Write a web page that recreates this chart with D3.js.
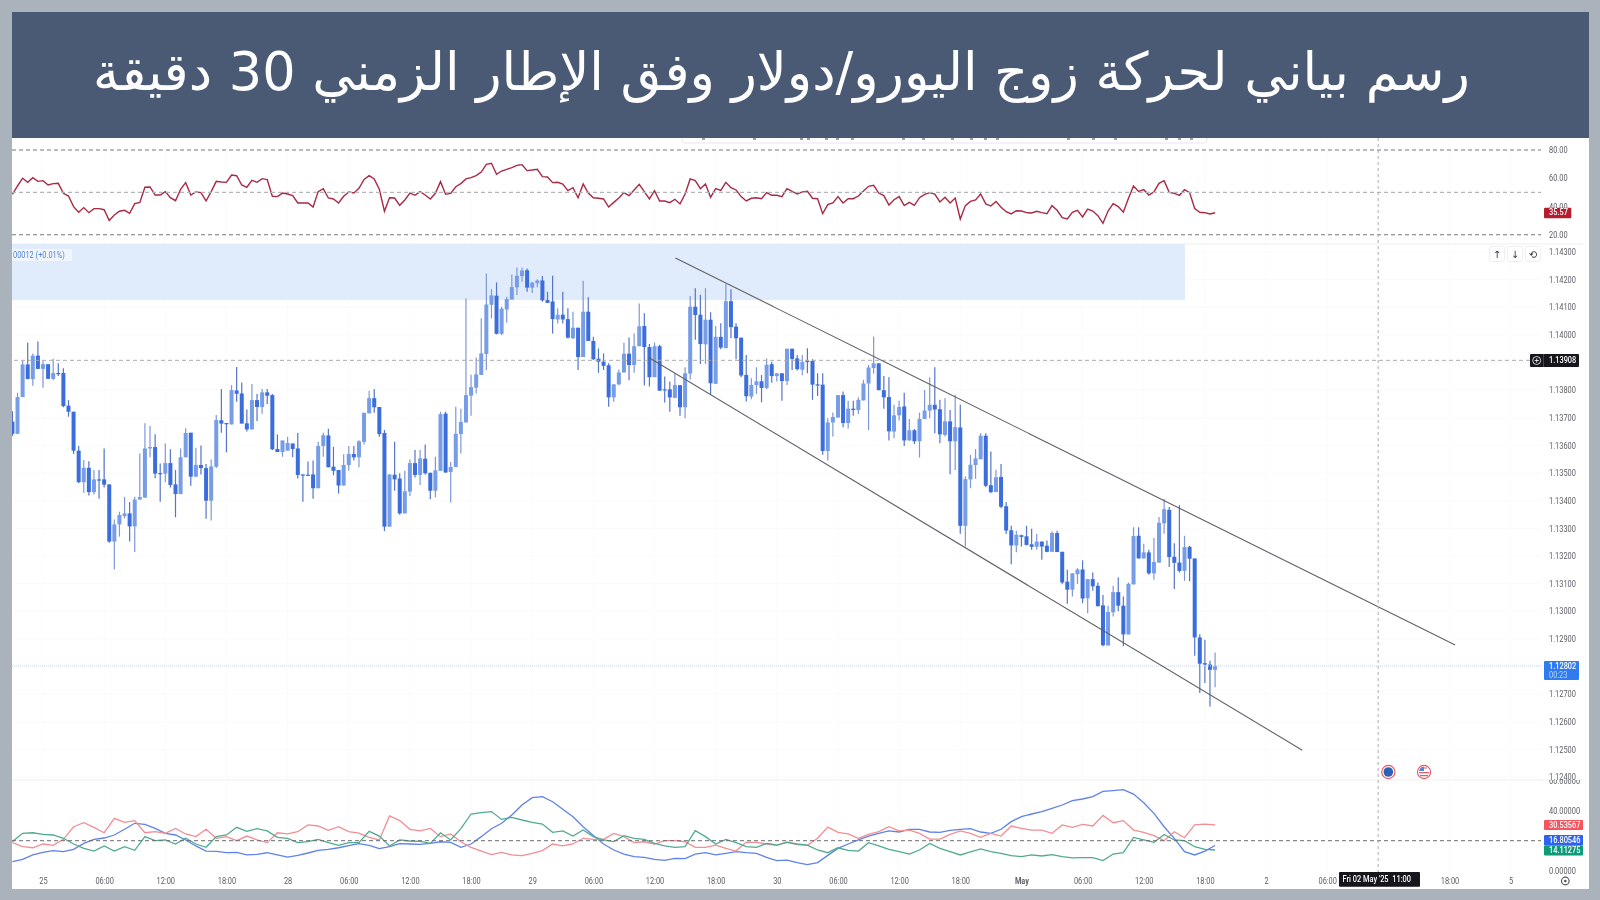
<!DOCTYPE html>
<html lang="ar">
<head>
<meta charset="utf-8">
<script src="https://cdn.jsdelivr.net/npm/d3@7"></script>
<style>
html,body{margin:0;padding:0;background:#aab2bc;overflow:hidden}
svg{display:block}
.tick text{font-family:Roboto,Arial,sans-serif}
</style>
</head>
<body>
<svg id="chart" width="1600" height="900"></svg>
<script>
const titleText = "رسم بياني لحركة زوج اليورو/دولار وفق الإطار الزمني 30 دقيقة";
const firstCandleIndex = -6;
const opens = [1.13686,1.13642,1.13775,1.13893,1.13840,1.13925,1.13877,1.13894,1.13841,1.13862,
1.13862,1.13744,1.13722,1.13581,1.13467,1.13519,1.13431,1.13477,1.13477,1.13459,
1.13252,1.13314,1.13344,1.13354,1.13307,1.13404,1.13411,1.13589,1.13594,1.13500,
1.13498,1.13536,1.13459,1.13424,1.13557,1.13646,1.13487,1.13529,1.13518,1.13400,
1.13523,1.13691,1.13681,1.13676,1.13799,1.13788,1.13680,1.13658,1.13764,1.13739,
1.13792,1.13782,1.13587,1.13576,1.13581,1.13607,1.13589,1.13495,1.13494,1.13495,
1.13445,1.13598,1.13636,1.13523,1.13511,1.13455,1.13529,1.13569,1.13557,1.13613,
1.13716,1.13771,1.13739,1.13645,1.13306,1.13494,1.13480,1.13354,1.13433,1.13536,
1.13493,1.13552,1.13501,1.13436,1.13508,1.13715,1.13504,1.13522,1.13641,1.13683,
1.13780,1.13809,1.13855,1.13931,1.14109,1.14142,1.14004,1.14092,1.14128,1.14172,
1.14213,1.14234,1.14171,1.14187,1.14197,1.14126,1.14121,1.14056,1.14073,1.14057,
1.13988,1.14026,1.13920,1.14084,1.13978,1.13914,1.13903,1.13890,1.13774,1.13821,
1.13864,1.13932,1.13891,1.13959,1.14032,1.13956,1.13847,1.13959,1.13803,1.13803,
1.13772,1.13818,1.13738,1.13860,1.14102,1.14073,1.13966,1.14055,1.13823,1.13993,
1.13952,1.14122,1.14030,1.13990,1.13855,1.13777,1.13818,1.13832,1.13808,1.13894,
1.13851,1.13861,1.13833,1.13950,1.13915,1.13874,1.13906,1.13906,1.13821,1.13820,
1.13580,1.13683,1.13701,1.13782,1.13681,1.13733,1.13728,1.13763,1.13824,1.13880,
1.13897,1.13800,1.13775,1.13650,1.13709,1.13741,1.13618,1.13655,1.13615,1.13696,
1.13726,1.13747,1.13731,1.13638,1.13687,1.13615,1.13665,1.13309,1.13477,1.13529,
1.13550,1.13635,1.13456,1.13431,1.13486,1.13380,1.13293,1.13238,1.13275,1.13271,
1.13242,1.13233,1.13252,1.13237,1.13215,1.13283,1.13215,1.13107,1.13078,1.13134,
1.13151,1.13047,1.13116,1.13092,1.13021,1.12876,1.12996,1.13069,1.13020,1.12916,
1.13097,1.13273,1.13191,1.13213,1.13137,1.13176,1.13318,1.13367,1.13197,1.13176,
1.13146,1.13233,1.13191,1.12905,1.12812,1.12807,1.12788];
const highs = [1.13724,1.13791,1.13906,1.13972,1.13933,1.13976,1.13906,1.13894,1.13914,1.13897,
1.13879,1.13764,1.13722,1.13598,1.13547,1.13543,1.13511,1.13511,1.13589,1.13459,
1.13332,1.13360,1.13414,1.13395,1.13414,1.13571,1.13680,1.13670,1.13640,1.13535,
1.13607,1.13586,1.13511,1.13589,1.13662,1.13646,1.13592,1.13600,1.13533,1.13549,
1.13710,1.13804,1.13681,1.13818,1.13884,1.13828,1.13730,1.13822,1.13786,1.13804,
1.13804,1.13786,1.13640,1.13618,1.13631,1.13607,1.13645,1.13495,1.13542,1.13545,
1.13613,1.13646,1.13660,1.13595,1.13511,1.13568,1.13598,1.13598,1.13619,1.13718,
1.13798,1.13804,1.13739,1.13656,1.13495,1.13613,1.13499,1.13508,1.13549,1.13583,
1.13583,1.13603,1.13501,1.13559,1.13722,1.13722,1.13540,1.13740,1.13733,1.14132,
1.13856,1.13918,1.14060,1.14222,1.14166,1.14190,1.14102,1.14138,1.14219,1.14244,
1.14244,1.14240,1.14192,1.14201,1.14213,1.14156,1.14214,1.14096,1.14156,1.14096,
1.14084,1.14026,1.14196,1.14136,1.13993,1.13951,1.13933,1.13897,1.13821,1.13875,
1.13972,1.13991,1.14005,1.14114,1.14078,1.13967,1.13972,1.13964,1.13849,1.13831,
1.13861,1.13818,1.13883,1.14141,1.14169,1.14145,1.14169,1.14082,1.14032,1.14042,
1.14184,1.14165,1.14042,1.13990,1.13927,1.13843,1.13883,1.13855,1.13915,1.13903,
1.13861,1.13861,1.13950,1.13950,1.13927,1.13927,1.13952,1.13912,1.13861,1.13861,
1.13698,1.13719,1.13782,1.13795,1.13762,1.13762,1.13774,1.13837,1.13891,1.13994,
1.13897,1.13851,1.13847,1.13747,1.13762,1.13791,1.13696,1.13659,1.13719,1.13801,
1.13847,1.13883,1.13765,1.13771,1.13728,1.13783,1.13747,1.13488,1.13566,1.13587,
1.13644,1.13644,1.13578,1.13512,1.13533,1.13395,1.13309,1.13291,1.13277,1.13309,
1.13298,1.13279,1.13252,1.13256,1.13289,1.13291,1.13215,1.13150,1.13137,1.13156,
1.13184,1.13116,1.13140,1.13104,1.13059,1.13020,1.13092,1.13122,1.13053,1.13104,
1.13304,1.13304,1.13244,1.13222,1.13265,1.13341,1.13406,1.13377,1.13246,1.13384,
1.13273,1.13237,1.13191,1.12917,1.12897,1.12821,1.12851];
const lows = [1.13634,1.13642,1.13775,1.13840,1.13816,1.13877,1.13809,1.13841,1.13836,1.13851,
1.13738,1.13704,1.13569,1.13463,1.13429,1.13419,1.13422,1.13407,1.13448,1.13248,
1.13151,1.13270,1.13336,1.13252,1.13214,1.13404,1.13411,1.13557,1.13481,1.13396,
1.13467,1.13448,1.13340,1.13424,1.13557,1.13454,1.13487,1.13495,1.13335,1.13328,
1.13518,1.13646,1.13575,1.13676,1.13758,1.13679,1.13650,1.13658,1.13688,1.13715,
1.13750,1.13583,1.13576,1.13559,1.13581,1.13557,1.13480,1.13396,1.13492,1.13407,
1.13445,1.13559,1.13521,1.13492,1.13426,1.13455,1.13508,1.13545,1.13521,1.13603,
1.13716,1.13718,1.13631,1.13290,1.13306,1.13436,1.13349,1.13354,1.13417,1.13484,
1.13457,1.13495,1.13405,1.13412,1.13508,1.13501,1.13393,1.13522,1.13571,1.13683,
1.13707,1.13788,1.13855,1.13873,1.14060,1.14002,1.13999,1.14044,1.14128,1.14144,
1.14192,1.14156,1.14152,1.14172,1.14120,1.14116,1.14005,1.14041,1.14041,1.13987,
1.13985,1.13873,1.13920,1.13978,1.13909,1.13863,1.13873,1.13740,1.13758,1.13818,
1.13864,1.13836,1.13863,1.13959,1.13817,1.13813,1.13847,1.13798,1.13755,1.13722,
1.13772,1.13707,1.13698,1.13839,1.13982,1.13895,1.13895,1.13786,1.13823,1.13948,
1.13952,1.13988,1.13912,1.13847,1.13759,1.13767,1.13786,1.13756,1.13803,1.13827,
1.13831,1.13762,1.13819,1.13873,1.13871,1.13854,1.13861,1.13765,1.13779,1.13566,
1.13545,1.13632,1.13701,1.13666,1.13661,1.13707,1.13714,1.13763,1.13656,1.13859,
1.13800,1.13733,1.13618,1.13626,1.13690,1.13598,1.13618,1.13605,1.13556,1.13695,
1.13698,1.13644,1.13608,1.13632,1.13496,1.13511,1.13280,1.13234,1.13445,1.13479,
1.13550,1.13449,1.13427,1.13431,1.13373,1.13279,1.13170,1.13213,1.13234,1.13238,
1.13222,1.13222,1.13186,1.13213,1.13215,1.13214,1.13098,1.13027,1.13053,1.13099,
1.13029,1.12993,1.13074,1.13018,1.12873,1.12876,1.12981,1.13000,1.12873,1.12916,
1.13097,1.13191,1.13191,1.13132,1.13114,1.13176,1.13280,1.13160,1.13080,1.13140,
1.13110,1.13108,1.12839,1.12704,1.12740,1.12655,1.12725];
const closes = [1.13642,1.13775,1.13893,1.13840,1.13925,1.13877,1.13894,1.13841,1.13862,1.13858,
1.13742,1.13722,1.13581,1.13467,1.13519,1.13431,1.13477,1.13476,1.13458,1.13252,
1.13314,1.13348,1.13354,1.13307,1.13404,1.13413,1.13589,1.13594,1.13498,1.13498,
1.13536,1.13457,1.13424,1.13557,1.13645,1.13487,1.13529,1.13518,1.13400,1.13524,
1.13692,1.13679,1.13679,1.13800,1.13787,1.13679,1.13658,1.13764,1.13739,1.13792,
1.13780,1.13586,1.13576,1.13618,1.13609,1.13587,1.13493,1.13493,1.13492,1.13445,
1.13598,1.13637,1.13521,1.13508,1.13455,1.13529,1.13569,1.13557,1.13615,1.13718,
1.13771,1.13738,1.13641,1.13306,1.13495,1.13477,1.13354,1.13434,1.13536,1.13493,
1.13553,1.13499,1.13436,1.13510,1.13713,1.13502,1.13522,1.13642,1.13685,1.13782,
1.13811,1.13857,1.13933,1.14110,1.14143,1.14004,1.14095,1.14130,1.14173,1.14214,
1.14233,1.14171,1.14189,1.14197,1.14125,1.14116,1.14057,1.14073,1.14056,1.13990,
1.14026,1.13920,1.14084,1.13978,1.13912,1.13903,1.13888,1.13774,1.13821,1.13864,
1.13932,1.13891,1.13959,1.14031,1.13956,1.13847,1.13959,1.13798,1.13800,1.13774,
1.13818,1.13738,1.13861,1.14102,1.14072,1.13967,1.14055,1.13825,1.13993,1.13954,
1.14122,1.14028,1.13988,1.13853,1.13778,1.13819,1.13832,1.13808,1.13892,1.13851,
1.13861,1.13833,1.13950,1.13913,1.13876,1.13902,1.13902,1.13820,1.13819,1.13580,
1.13683,1.13703,1.13782,1.13681,1.13733,1.13728,1.13765,1.13824,1.13882,1.13897,
1.13800,1.13774,1.13651,1.13709,1.13739,1.13618,1.13655,1.13615,1.13696,1.13726,
1.13747,1.13730,1.13640,1.13687,1.13615,1.13666,1.13309,1.13478,1.13530,1.13553,
1.13635,1.13454,1.13431,1.13485,1.13378,1.13292,1.13238,1.13277,1.13269,1.13240,
1.13233,1.13252,1.13234,1.13215,1.13283,1.13214,1.13104,1.13078,1.13137,1.13151,
1.13046,1.13116,1.13090,1.13018,1.12877,1.12997,1.13069,1.13020,1.12916,1.13099,
1.13272,1.13191,1.13213,1.13137,1.13178,1.13320,1.13369,1.13196,1.13175,1.13146,
1.13232,1.13190,1.12905,1.12810,1.12807,1.12788,1.12802];

const rsiValues = [48.6,54.5,60.0,57.1,60.4,57.8,58.3,55.2,56.2,56.4,
49.3,47.4,39.9,35.9,39.2,35.6,38.5,38.5,37.7,30.0,
34.0,36.6,37.3,35.1,42.0,42.9,53.6,53.8,48.1,48.1,
50.5,46.2,44.1,52.1,56.9,48.1,50.3,49.8,43.9,50.5,
57.8,57.3,57.1,62.3,61.8,55.2,53.6,58.5,57.1,59.7,
59.0,47.2,47.0,49.5,48.8,47.7,42.5,42.5,42.5,39.6,
50.5,52.6,46.0,45.3,42.5,47.2,50.3,49.5,52.9,59.2,
61.8,59.5,52.2,36.6,46.2,46.0,40.8,44.6,49.5,47.9,
50.5,48.1,45.3,49.3,57.6,48.6,49.3,54.0,56.2,59.5,
60.4,61.8,64.4,69.9,70.6,62.8,65.1,66.3,67.5,69.1,
69.6,65.4,65.8,66.3,61.1,60.9,56.9,57.1,55.9,51.2,
53.3,46.2,55.9,49.5,46.2,45.8,45.3,39.6,42.9,46.0,
49.8,47.7,51.7,55.7,50.5,45.3,51.2,43.9,43.9,42.7,
45.1,41.8,48.8,59.5,58.3,52.6,55.9,46.5,52.6,51.4,
57.1,53.3,51.7,47.0,43.9,45.8,46.2,45.5,49.8,47.9,
47.9,47.0,52.6,50.7,48.8,50.3,50.7,45.8,45.5,34.9,
41.3,42.5,47.0,42.5,45.5,45.5,47.4,51.0,54.3,55.0,
49.5,47.7,41.0,44.8,47.0,40.6,42.9,40.8,46.2,48.6,
49.8,48.8,43.2,46.5,42.5,46.0,31.1,40.6,43.6,44.6,
48.8,41.8,40.3,43.6,39.4,36.3,34.7,37.0,36.8,35.6,
35.4,36.6,35.6,34.9,40.6,37.3,32.1,31.1,35.9,37.3,
32.6,38.2,36.8,33.5,28.1,36.8,42.0,39.9,35.9,45.8,
54.5,50.7,51.9,48.1,50.3,56.4,58.3,50.0,49.3,47.9,
51.9,49.8,38.5,35.9,35.6,34.7,35.57];

// Directional movement readings are taken every second candle
const dmiStep = 2;
const adxValues = [6.0,7.6,10.5,12.2,13.4,12.7,14.2,18.2,20.9,21.8,
23.8,27.6,31.6,30.9,28.2,24.9,23.8,20.5,16.5,13.1,
12.9,12.0,12.2,10.5,10.9,12.0,10.5,9.1,10.2,11.8,
13.6,14.2,15.3,16.7,18.0,16.9,14.7,16.0,18.0,17.8,
17.6,18.2,19.3,18.9,15.6,17.8,22.7,28.0,31.6,37.1,
43.8,48.7,49.4,46.0,40.9,36.0,29.3,23.4,17.8,13.8,
11.1,9.4,8.9,7.6,6.9,8.2,8.0,11.1,12.0,10.5,
11.6,12.7,12.0,11.6,8.9,6.7,7.1,5.4,4.0,5.4,
10.2,14.9,17.8,20.5,23.1,24.9,26.5,25.8,27.6,27.6,
25.8,25.6,26.9,27.6,28.0,25.8,24.9,27.6,32.7,36.0,
37.8,39.4,41.6,43.8,46.7,47.8,49.4,52.9,53.4,54.0,
51.1,45.3,38.2,29.3,21.6,12.7,10.5,13.1,16.8];
const minusDiValues = [18.7,16.0,15.3,17.8,16.9,20.9,29.3,32.0,28.9,25.3,
34.9,32.2,33.4,25.3,26.0,24.9,28.2,24.5,22.7,27.6,
21.6,22.7,20.0,23.1,20.5,18.7,25.3,24.5,26.0,30.5,
29.8,26.9,29.3,26.0,25.1,22.2,20.5,36.5,33.4,27.6,
26.5,28.2,22.7,24.5,19.3,15.6,13.1,10.7,12.2,10.5,
10.0,11.6,13.4,17.8,16.5,17.8,21.6,20.9,20.9,24.9,
22.7,18.7,19.3,17.8,20.0,20.0,19.3,15.6,15.6,17.1,
14.9,13.1,19.1,18.9,17.8,16.9,19.1,17.4,16.9,21.6,
29.1,25.6,24.5,21.6,24.2,26.0,29.3,26.5,27.1,24.9,
21.1,21.1,24.2,26.5,24.9,22.2,24.9,23.1,29.8,28.2,
27.1,27.1,24.9,30.5,28.9,30.9,29.8,36.9,32.0,33.4,
27.1,25.6,23.4,20.0,26.0,22.0,30.5,31.1,30.5];
const plusDiValues = [19.4,24.9,25.3,24.2,23.8,21.6,17.8,14.9,13.1,16.5,
13.1,16.0,13.6,22.7,20.0,20.5,17.8,21.6,17.8,15.6,
22.7,23.8,28.9,26.2,28.0,26.5,22.2,21.6,18.7,19.4,
20.9,18.7,16.9,18.7,18.7,26.2,23.1,16.5,20.5,19.8,
19.6,18.2,25.3,20.5,28.0,37.8,38.7,39.4,34.2,35.6,
33.8,32.2,31.1,25.6,26.5,23.1,27.1,22.7,20.5,19.4,
23.4,21.6,20.9,18.2,16.5,15.6,16.0,26.7,22.7,17.8,
20.9,18.7,16.0,15.6,18.2,17.1,18.9,17.8,17.1,13.8,
12.0,15.3,13.6,13.1,18.7,16.5,14.2,12.7,11.1,13.8,
18.2,14.9,12.7,10.5,12.5,14.5,12.7,11.6,10.0,9.4,
10.5,9.8,10.7,9.4,8.5,8.7,8.7,6.7,11.1,12.0,
22.2,20.5,18.9,24.2,20.5,20.0,16.0,14.2,13.8];

const priceTicks = [1.143,1.142,1.141,1.140,1.139,1.138,1.137,1.136,1.135,1.134,1.133,1.132,1.131,1.130,1.129,1.128,1.127,1.126,1.125,1.124];
const rsiTicks = [80,60,40,20];
const rsiBands = [80,50,20];
const dmiTicks = [60,40,0];
const dmiLevel = [20];
const timeTickIndex = [0,12,24,36,48,60,72,84,96,108,120,132,144,156,168,180,192,204,216,228,240,252,276,288];
const timeTickLabels = ["25","06:00","12:00","18:00","28","06:00","12:00","18:00","29","06:00","12:00","18:00","30","06:00","12:00","18:00","May","06:00","12:00","18:00","2","06:00","18:00","5"];
const upperChannel = [{i:124.1,p:1.14278},{i:277.1,p:1.12878}];
const lowerChannel = [{i:118.8,p:1.13919},{i:247.1,p:1.12497}];
const zone = {from:-8,to:224.1,top:1.14329,bottom:1.14126};
const previousClose = 1.13908, lastPrice = 1.12802, lastRsi = 35.57;
const lastDmi = [{v:"30.53567",c:"#f6525b"},{v:"16.80546",c:"#2d62f0"},{v:"14.11275",c:"#0b9a78"}];
const crosshairIndex = 262, crosshairLabel = "Fri 02 May '25  11:00";
const eventIndex = [264, 271];

const svg = d3.select("#chart");
const FONT = "Roboto,Arial,sans-serif";
const L = 12, R = 1589, AX = 1541, SQUEEZE = 0.87;

const x = d3.scaleLinear().domain([0,240]).range([43,43+5.096*240]);
const yP = d3.scaleLinear().domain([1.143,1.124]).range([252,777]);
const yR = d3.scaleLinear().domain([80,20]).range([150,234.7]);
const yD = d3.scaleLinear().domain([40,0]).range([810.7,870.7]);

// Labels in the reference are horizontally narrowed
function narrow(sel,f){
  sel.each(function(){
    const n=this.getComputedTextLength();
    d3.select(this).attr("textLength",n*(f||SQUEEZE)).attr("lengthAdjust","spacingAndGlyphs");
  });
}

const defs = svg.append("defs");
const clip = (id,x0,y0,w,h)=>defs.append("clipPath").attr("id",id).append("rect").attr("x",x0).attr("y",y0).attr("width",w).attr("height",h);
clip("cMain",L,244,AX-L,536); clip("cRsi",L,138,AX-L,106); clip("cDmi",L,780,AX-L,92);
clip("cDmiAxis",1540,780,48,96);
defs.append("filter").attr("id","soft").attr("x","-2%").attr("y","-2%").attr("width","104%").attr("height","104%")
  .append("feGaussianBlur").attr("stdDeviation",0.35);

svg.append("rect").attr("width",1600).attr("height",900).attr("fill","#aab2bc");
svg.append("rect").attr("x",L).attr("y",12).attr("width",R-L).attr("height",877).attr("fill","#fff");

const g = svg.append("g").attr("filter","url(#soft)");

// Faint grid
const grid = g.append("g").attr("stroke","#fbfbfc").attr("stroke-width",1);
grid.selectAll("line.v").data(timeTickIndex).join("line").attr("x1",d=>x(d)).attr("x2",d=>x(d)).attr("y1",138).attr("y2",872);
grid.selectAll("line.h").data(priceTicks).join("line").attr("x1",L).attr("x2",AX).attr("y1",d=>yP(d)).attr("y2",d=>yP(d));

// Toolbar remnant under the banner
g.append("rect").attr("x",682).attr("y",128).attr("width",525).attr("height",15).attr("rx",3)
  .attr("fill","#fff").attr("stroke","#e6e7ea");
const toolbarMarks = [702,753,800,807,825,836,851,902,922,951,970,984,996,1067,1092,1114,1165,1178,1190];
g.append("g").selectAll("rect").data(toolbarMarks).join("rect").attr("x",d=>d).attr("y",138).attr("width",3).attr("height",2).attr("fill","#9a9da3");

// Pane dividers
g.append("g").selectAll("line").data([244,780]).join("line").attr("x1",L).attr("x2",R-6).attr("y1",d=>d).attr("y2",d=>d).attr("stroke","#edeff2");

// RSI pane
const rsiG = g.append("g").attr("clip-path","url(#cRsi)");
g.append("g").selectAll("line").data(rsiBands).join("line")
  .attr("x1",L).attr("x2",AX).attr("y1",d=>yR(d)).attr("y2",d=>yR(d))
  .attr("stroke",d=>d===50?"#b4b6bb":"#74777d").attr("stroke-width",1.1).attr("stroke-dasharray","4 3");
rsiG.append("path").datum(rsiValues).attr("fill","none").attr("stroke","#a82a45").attr("stroke-width",1.4)
  .attr("d",d3.line().x((d,i)=>x(firstCandleIndex+i)).y(d=>yR(d)));

// Main pane
const mainG = g.append("g").attr("clip-path","url(#cMain)");
mainG.append("rect").attr("x",x(zone.from)).attr("y",yP(zone.top)).attr("width",x(zone.to)-x(zone.from)).attr("height",yP(zone.bottom)-yP(zone.top)).attr("fill","#e0ebfb");
g.append("line").attr("x1",L+2).attr("x2",AX-11).attr("y1",yP(previousClose)).attr("y2",yP(previousClose)).attr("stroke","#a9abb0").attr("stroke-dasharray","4 3");
g.append("line").attr("x1",L).attr("x2",AX).attr("y1",yP(lastPrice)).attr("y2",yP(lastPrice)).attr("stroke","#c3d6f6").attr("stroke-dasharray","1 1");

const candles = opens.map((o,k)=>({i:firstCandleIndex+k,o,h:highs[k],l:lows[k],c:closes[k]}));
const DARK="#3a6edc", LIGHT="#769de6", WD="#5574c8", WL="#7f97d6";
const cg = mainG.append("g").selectAll("g").data(candles).join("g");
cg.append("line").attr("x1",d=>x(d.i)).attr("x2",d=>x(d.i)).attr("y1",d=>yP(d.h)).attr("y2",d=>yP(d.l))
  .attr("stroke",d=>d.c<d.o?WD:WL).attr("stroke-width",1.2);
cg.append("rect").attr("x",d=>x(d.i)-2).attr("width",4)
  .attr("y",d=>yP(Math.max(d.o,d.c))).attr("height",d=>Math.max(1.2,Math.abs(yP(d.o)-yP(d.c))))
  .attr("fill",d=>d.c<d.o?DARK:LIGHT);

const pl = d3.line().x(d=>x(d.i)).y(d=>yP(d.p));
[upperChannel,lowerChannel].forEach(c=>g.append("path").datum(c).attr("d",pl).attr("fill","none").attr("stroke","#5f6167").attr("stroke-width",1.1));

g.append("rect").attr("x",L).attr("y",249).attr("width",60).attr("height",12).attr("fill","#fff").attr("opacity",0.55);
g.append("text").attr("x",L+1).attr("y",257.5).attr("font-family",FONT).attr("font-size",8.5).attr("fill","#4f7fcf").text("00012 (+0.01%)").call(narrow);

// DMI pane
const dmiG = g.append("g").attr("clip-path","url(#cDmi)");
g.append("g").selectAll("line").data(dmiLevel).join("line").attr("x1",L).attr("x2",AX).attr("y1",d=>yD(d)).attr("y2",d=>yD(d)).attr("stroke","#6a6c72").attr("stroke-dasharray","4 3");
const dl = d3.line().x((d,k)=>x(firstCandleIndex+k*dmiStep)).y(d=>yD(d));
[[adxValues,"#5f82ea"],[minusDiValues,"#f28e94"],[plusDiValues,"#50ab8e"]].forEach(([v,c])=>
  dmiG.append("path").datum(v).attr("d",dl).attr("fill","none").attr("stroke",c).attr("stroke-width",1.3));

// Crosshair
g.append("line").attr("x1",x(crosshairIndex)).attr("x2",x(crosshairIndex)).attr("y1",138).attr("y2",872).attr("stroke","#a9abb0").attr("stroke-dasharray","3 3");

// Axes
function styleAxis(sel,size,color){
  sel.select(".domain").remove();
  sel.selectAll(".tick line").remove();
  sel.selectAll(".tick text").attr("font-size",size).attr("fill",color).attr("font-family",FONT).call(narrow);
}
g.append("g").attr("transform","translate(1549,0)").call(d3.axisRight(yP).tickValues(priceTicks).tickSize(0).tickPadding(0).tickFormat(d3.format(".5f"))).call(styleAxis,8.5,"#5a5d63");
g.append("g").attr("transform","translate(1549,0)").call(d3.axisRight(yR).tickValues(rsiTicks).tickSize(0).tickPadding(0).tickFormat(d3.format(".2f"))).call(styleAxis,8.5,"#5a5d63");
g.append("g").attr("clip-path","url(#cDmiAxis)").append("g").attr("transform","translate(1549,0)").call(d3.axisRight(yD).tickValues(dmiTicks).tickSize(0).tickPadding(0).tickFormat(d3.format(".5f"))).call(styleAxis,8.5,"#5a5d63");
g.append("g").attr("transform","translate(0,874)").call(d3.axisBottom(x).tickValues(timeTickIndex).tickSize(0).tickPadding(4).tickFormat((d,k)=>timeTickLabels[k])).call(styleAxis,8.5,"#5a5d63")
  .selectAll(".tick text").attr("font-weight",d=>d===192?"700":"400");

// Value badges
function badge(x0,y0,w,h,fill,txt,cx,cy,tc,fs){
  g.append("rect").attr("x",x0).attr("y",y0).attr("width",w).attr("height",h).attr("fill",fill).attr("rx",1);
  g.append("text").attr("x",cx).attr("y",cy).attr("fill",tc||"#fff").attr("font-family",FONT).attr("font-size",fs||8.5).attr("font-weight",500).attr("dominant-baseline","middle").style("white-space","pre").text(txt).call(narrow);
}
badge(1544,207.7,27.3,10.5,"#b71c2f",lastRsi.toFixed(2),1549,yR(lastRsi)+0.3);
badge(1530,354,49,13,"#12141a",previousClose.toFixed(5),1549,yP(previousClose)+0.3);
g.append("circle").attr("cx",1536.7).attr("cy",360.5).attr("r",4).attr("fill","none").attr("stroke","#fff").attr("stroke-width",0.8);
g.append("path").attr("d","M1534.5 360.5h4.4M1536.7 358.3v4.4").attr("stroke","#fff").attr("stroke-width",0.8);
g.append("line").attr("x1",1543.5).attr("x2",1543.5).attr("y1",354).attr("y2",367).attr("stroke","#444");
badge(1544,661,35,19,"#2f7bf0",lastPrice.toFixed(5),1549,666.5);
g.append("text").attr("x",1549).attr("y",675.5).attr("fill","#bcd6fb").attr("font-family",FONT).attr("font-size",8.5).attr("dominant-baseline","middle").text("00:23").call(narrow);
[[820,10],[835,10.5],[845.5,10]].forEach(([y0,h],k)=>badge(1544,y0,39,h,lastDmi[k].c,lastDmi[k].v,1549,y0+h/2+0.3));

// Crosshair time label
badge(1339,872,81,14.7,"#12141a",crosshairLabel,1342.5,879.7,"#fff",8.5);

// Chart buttons
const btnX=[1497,1515,1533];
btnX.forEach((bx,k)=>{
  g.append("rect").attr("x",bx-7.5).attr("y",246.5).attr("width",15).attr("height",15).attr("rx",2).attr("fill","#fff").attr("stroke","#eceef1");
  g.append("text").attr("x",bx).attr("y",257.5).attr("text-anchor","middle").attr("font-family","DejaVu Sans").attr("font-size",10).attr("fill","#33363c").text(["↑","↓","⟲"][k]);
});

// Event markers
const evY=772;
eventIndex.forEach((ei,k)=>{
  const cx=x(ei);
  g.append("circle").attr("cx",cx).attr("cy",evY).attr("r",6.6).attr("fill","#fff").attr("stroke","#e9556a").attr("stroke-width",1.1);
  if(k===0){
    g.append("circle").attr("cx",cx).attr("cy",evY).attr("r",4.8).attr("fill","#2a63b4");
  }else{
    g.append("path").attr("d",`M${cx-5} ${evY-1}a5.2 5.2 0 0 1 5-4.2v4.2z`).attr("fill","#4f8ad9");
    g.append("path").attr("d",`M${cx} ${evY-4.5}h3v1h-3zM${cx-5} ${evY}h10v1.2h-10zM${cx-4} ${evY+3}h8v1.2h-8z`).attr("fill","#e45a66");
  }
});

// Settings gear
g.append("circle").attr("cx",1565.3).attr("cy",881).attr("r",3.8).attr("fill","none").attr("stroke","#555").attr("stroke-width",1.2);
g.append("circle").attr("cx",1565.3).attr("cy",881).attr("r",1.3).attr("fill","#555");

// Banner
svg.append("rect").attr("x",L).attr("y",12).attr("width",R-L).attr("height",126).attr("fill","#4a5a75");
svg.append("text").attr("x",781.5).attr("y",71).attr("text-anchor","middle").attr("dominant-baseline","central")
  .attr("direction","rtl").attr("font-family","DejaVu Sans").attr("font-size",52.5).attr("fill","#fff").text(titleText);
</script>
</body>
</html>
